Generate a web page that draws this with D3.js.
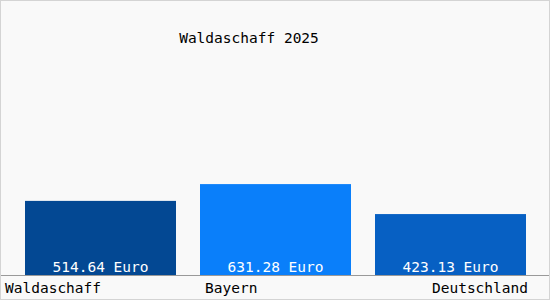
<!DOCTYPE html>
<html>
<head>
<meta charset="utf-8">
<script src="https://cdn.jsdelivr.net/npm/d3@7"></script>
<style>
  body { margin: 0; background: #fff; }
  svg text { font-family: "DejaVu Sans Mono", "Liberation Mono", monospace; font-size: 14.5px; }
</style>
</head>
<body>
<div id="chart"></div>
<script>
// chart data
var categories = ["Waldaschaff", "Bayern", "Deutschland"];
var values = [514.64, 631.28, 423.13];
var valueLabels = ["514.64 Euro", "631.28 Euro", "423.13 Euro"];
var colors = ["#034893", "#0a7ffa", "#0760c3"];
var title = "Waldaschaff 2025";

var svgWidth = 550;
var svgHeight = 300;
var baseY = 275;

var svg = d3.select("#chart")
    .append("svg")
    .attr("width", svgWidth)
    .attr("height", svgHeight);

// background + frame
svg.append("rect")
    .attr("x", 0.5).attr("y", 0.5)
    .attr("width", svgWidth - 1).attr("height", svgHeight - 1)
    .style("fill", "#f9f9f9")
    .style("stroke", "#d4d4d4");

var xScale = d3.scaleBand()
    .domain(categories)
    .range([25, 526])
    .paddingInner(24 / 175)
    .paddingOuter(0);

var yScale = d3.scaleLinear()
    .domain([0, 1000])
    .range([baseY, baseY - 144]);

// bars
svg.append("g")
    .selectAll("rect")
    .data(values)
    .enter()
    .append("rect")
    .attr("x", (d, i) => xScale(categories[i]))
    .attr("y", d => yScale(d))
    .attr("width", xScale.bandwidth())
    .attr("height", d => baseY - yScale(d))
    .style("fill", (d, i) => colors[i]);

// value labels inside bars
svg.append("g")
    .selectAll("text")
    .data(valueLabels)
    .enter()
    .append("text")
    .attr("x", (d, i) => xScale(categories[i]) + xScale.bandwidth() / 2)
    .attr("y", baseY - 3)
    .style("text-anchor", "middle")
    .style("fill", "#ffffff")
    .text(d => d);

// axis line
svg.append("line")
    .attr("x1", 1).attr("x2", svgWidth - 1)
    .attr("y1", baseY + 0.5).attr("y2", baseY + 0.5)
    .style("stroke", "#999");

// category labels
var anchors = ["start", "start", "end"];
svg.append("g")
    .selectAll("text")
    .data(categories)
    .enter()
    .append("text")
    .attr("x", (d, i) => {
        if (i == 0) return 5;
        if (i == 2) return xScale(d) + xScale.bandwidth() + 2;
        return xScale(d) + 5;
    })
    .attr("y", 293)
    .style("text-anchor", (d, i) => anchors[i])
    .style("fill", "#000")
    .text(d => d);

// title
svg.append("text")
    .attr("x", 249)
    .attr("y", 43)
    .style("text-anchor", "middle")
    .style("fill", "#000")
    .text(title);
</script>
</body>
</html>
